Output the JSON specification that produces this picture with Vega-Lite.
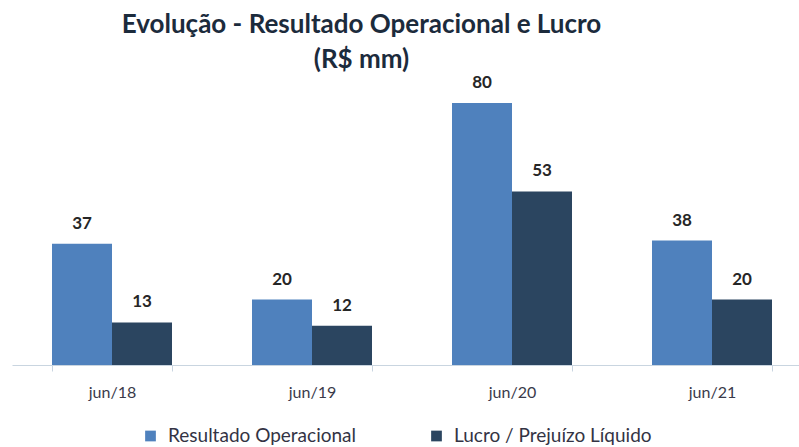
{
  "$schema": "https://vega.github.io/schema/vega-lite/v6.json",
  "autosize": "none",
  "width": 787,
  "height": 294.75,
  "padding": {"top": 70.25, "left": 12, "right": 0, "bottom": 82},
  "background": "white",
  "config": {"view": {"stroke": null}, "font": "Lato"},
  "title": {
    "text": ["Evolução - Resultado Operacional e Lucro", "(R$ mm)"],
    "font": "Lato",
    "fontSize": 26,
    "fontWeight": "bold",
    "color": "#1c2b3c",
    "lineHeight": 35,
    "anchor": "middle",
    "dx": -44,
    "offset": -3
  },
  "data": {
    "values": [
      {"periodo": "jun/18", "serie": "Resultado Operacional", "valor": 37},
      {"periodo": "jun/18", "serie": "Lucro / Prejuízo Líquido", "valor": 13},
      {"periodo": "jun/19", "serie": "Resultado Operacional", "valor": 20},
      {"periodo": "jun/19", "serie": "Lucro / Prejuízo Líquido", "valor": 12},
      {"periodo": "jun/20", "serie": "Resultado Operacional", "valor": 80},
      {"periodo": "jun/20", "serie": "Lucro / Prejuízo Líquido", "valor": 53},
      {"periodo": "jun/21", "serie": "Resultado Operacional", "valor": 38},
      {"periodo": "jun/21", "serie": "Lucro / Prejuízo Líquido", "valor": 20}
    ]
  },
  "encoding": {
    "x": {
      "field": "periodo",
      "type": "nominal",
      "sort": null,
      "scale": {"range": [0, 800], "paddingInner": 0.4, "paddingOuter": 0.2},
      "axis": {
        "title": null,
        "labelAngle": 0,
        "labelFont": "Lato",
        "labelFontSize": 16,
        "labelColor": "#3a3a4a",
        "labelPadding": 13,
        "domainColor": "#c9d5e0",
        "tickColor": "#c9d5e0",
        "tickSize": 6,
        "tickBand": "extent",
        "grid": false
      }
    },
    "xOffset": {
      "field": "serie",
      "type": "nominal",
      "sort": ["Resultado Operacional", "Lucro / Prejuízo Líquido"],
      "scale": {"paddingInner": 0, "paddingOuter": 0}
    },
    "y": {
      "field": "valor",
      "type": "quantitative",
      "scale": {"domain": [0, 90], "nice": false},
      "axis": null
    }
  },
  "layer": [
    {
      "mark": {"type": "bar"},
      "encoding": {
        "color": {
          "field": "serie",
          "type": "nominal",
          "sort": ["Resultado Operacional", "Lucro / Prejuízo Líquido"],
          "scale": {"domain": ["Resultado Operacional", "Lucro / Prejuízo Líquido"], "range": ["#4f81bd", "#2b4560"]},
          "legend": {
            "title": null,
            "orient": "none",
            "legendX": 129,
            "legendY": 356,
            "direction": "horizontal",
            "symbolType": "square",
            "symbolSize": 115,
            "symbolStrokeWidth": 0,
            "labelFont": "Lato",
            "labelFontSize": 19,
            "labelColor": "#333344",
            "labelLimit": 400,
            "labelOffset": 8,
            "columnPadding": 71
          }
        }
      }
    },
    {
      "mark": {"type": "text", "dy": -20, "fontSize": 17, "fontWeight": "bold", "font": "Lato", "color": "#262626"},
      "encoding": {"text": {"field": "valor", "type": "quantitative"}}
    }
  ]
}
